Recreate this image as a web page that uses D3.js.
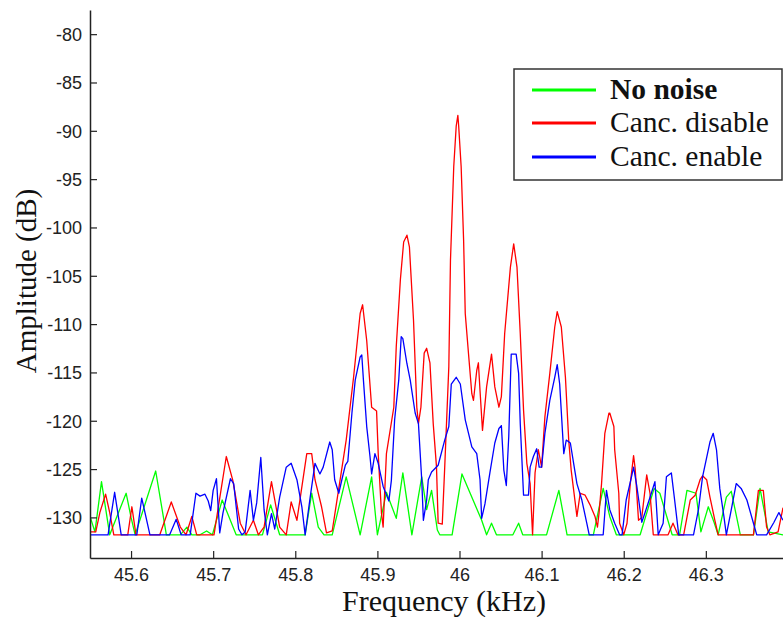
<!DOCTYPE html>
<html>
<head>
<meta charset="utf-8">
<script src="https://cdn.jsdelivr.net/npm/d3@7"></script>
<style>
  body { margin: 0; background: #fff; }
  svg { display: block; }
  .tick text { font-family: "Liberation Sans", Arial, sans-serif; font-size: 18px; fill: #222; }
  .title { font-family: "Liberation Serif", "Times New Roman", serif; fill: #111; }
</style>
</head>
<body>
<svg id="chart" width="783" height="617"></svg>
<script>
// values: [frequency kHz, amplitude dB]
const noNoise = [
  [45.550,-129.9],[45.556,-131.5],[45.564,-126.3],[45.574,-131.8],[45.594,-127.5],[45.600,-130.0],[45.605,-131.8],
  [45.630,-125.2],[45.643,-131.8],[45.660,-131.8],[45.668,-131.0],[45.674,-131.8],[45.684,-131.8],[45.692,-131.4],
  [45.699,-131.8],[45.711,-128.2],[45.728,-131.8],[45.760,-131.8],[45.770,-128.7],[45.781,-131.8],[45.812,-131.8],
  [45.820,-127.5],[45.828,-131.0],[45.835,-131.8],[45.845,-131.8],[45.862,-125.8],[45.879,-131.8],[45.893,-125.8],
  [45.900,-131.8],[45.911,-127.4],[45.923,-130.1],[45.931,-125.4],[45.942,-131.8],[45.954,-125.8],[45.960,-129.2],
  [45.966,-127.2],[45.973,-131.3],[45.976,-131.8],[45.991,-131.8],[46.003,-125.5],[46.027,-130.3],[46.033,-131.8],
  [46.039,-130.6],[46.045,-131.8],[46.065,-131.8],[46.072,-130.6],[46.077,-131.8],[46.106,-131.8],[46.121,-127.2],
  [46.131,-131.8],[46.163,-131.8],[46.175,-127.0],[46.183,-129.9],[46.191,-131.8],[46.220,-131.8],[46.237,-127.0],
  [46.244,-127.5],[46.259,-131.8],[46.268,-131.8],[46.277,-127.2],[46.288,-127.5],[46.294,-131.5],[46.303,-128.9],
  [46.310,-130.5],[46.315,-131.8],[46.325,-127.9],[46.331,-127.3],[46.342,-131.8],[46.358,-131.8],[46.366,-127.0],
  [46.376,-131.5],[46.394,-131.8]
];

const cancDisable = [
  [45.550,-131.5],[45.557,-131.5],[45.562,-129.5],[45.569,-127.6],[45.574,-129.5],[45.579,-131.8],[45.596,-131.8],
  [45.601,-128.9],[45.606,-131.8],[45.635,-131.8],[45.649,-128.4],[45.660,-131.0],[45.667,-131.8],[45.674,-129.9],
  [45.680,-131.8],[45.701,-131.8],[45.708,-128.0],[45.716,-123.7],[45.724,-126.2],[45.733,-130.6],[45.740,-131.8],
  [45.749,-130.3],[45.755,-131.8],[45.762,-131.0],[45.771,-126.3],[45.781,-131.0],[45.789,-131.8],[45.795,-128.4],
  [45.802,-130.3],[45.806,-128.0],[45.814,-123.4],[45.820,-123.4],[45.824,-126.1],[45.832,-128.9],[45.838,-131.6],
  [45.845,-131.4],[45.853,-127.0],[45.862,-122.0],[45.871,-115.5],[45.879,-108.9],[45.882,-108.0],[45.887,-111.7],
  [45.893,-118.6],[45.899,-119.0],[45.901,-123.4],[45.905,-129.6],[45.907,-131.0],[45.911,-123.4],[45.920,-118.6],
  [45.923,-112.3],[45.928,-105.4],[45.932,-101.5],[45.936,-100.8],[45.939,-102.0],[45.944,-109.6],[45.948,-118.6],
  [45.950,-120.3],[45.953,-118.6],[45.957,-113.0],[45.960,-112.5],[45.964,-114.0],[45.968,-120.3],[45.972,-124.8],
  [45.974,-130.6],[45.979,-130.7],[45.982,-124.8],[45.987,-114.4],[45.989,-103.4],[45.993,-93.7],[45.996,-89.5],
  [45.998,-88.4],[45.999,-89.5],[46.002,-93.7],[46.005,-101.3],[46.007,-108.9],[46.011,-113.1],[46.015,-117.2],
  [46.017,-117.9],[46.021,-114.8],[46.023,-114.0],[46.025,-116.9],[46.028,-121.0],[46.033,-116.5],[46.039,-113.1],
  [46.043,-116.5],[46.048,-118.6],[46.051,-117.5],[46.055,-111.0],[46.062,-104.1],[46.066,-101.7],[46.070,-104.1],
  [46.074,-111.0],[46.078,-118.9],[46.082,-124.4],[46.086,-126.5],[46.089,-131.8],[46.092,-125.4],[46.096,-123.0],
  [46.100,-124.8],[46.104,-119.6],[46.110,-115.1],[46.116,-110.3],[46.119,-108.7],[46.124,-110.3],[46.129,-115.5],
  [46.133,-122.0],[46.136,-125.1],[46.143,-129.9],[46.147,-127.5],[46.153,-127.7],[46.159,-128.7],[46.165,-129.9],
  [46.168,-131.0],[46.170,-129.5],[46.173,-126.5],[46.177,-121.3],[46.182,-119.2],[46.183,-119.2],[46.188,-120.6],
  [46.189,-123.0],[46.194,-127.5],[46.195,-130.6],[46.200,-131.8],[46.204,-130.6],[46.208,-126.5],[46.212,-123.6],
  [46.214,-125.0],[46.218,-130.3],[46.222,-130.0],[46.228,-125.6],[46.232,-127.5],[46.236,-131.8],[46.254,-131.8],
  [46.260,-130.6],[46.266,-131.8],[46.273,-131.8],[46.281,-128.2],[46.287,-127.7],[46.293,-126.1],[46.296,-125.7],
  [46.301,-126.1],[46.305,-127.9],[46.311,-130.3],[46.315,-131.8],[46.358,-131.8],[46.364,-127.2],[46.370,-127.2],
  [46.374,-131.0],[46.378,-131.8],[46.388,-131.5],[46.394,-129.0]
];

const cancEnable = [
  [45.550,-131.8],[45.572,-131.8],[45.580,-127.4],[45.588,-131.8],[45.607,-131.8],[45.613,-128.0],[45.623,-131.8],
  [45.647,-131.8],[45.655,-130.2],[45.661,-131.8],[45.672,-131.8],[45.679,-127.5],[45.684,-127.8],[45.690,-127.6],
  [45.694,-128.3],[45.697,-129.3],[45.700,-127.2],[45.704,-126.0],[45.708,-131.6],[45.712,-129.5],[45.721,-126.0],
  [45.725,-126.5],[45.731,-131.2],[45.735,-131.8],[45.739,-131.5],[45.745,-127.2],[45.749,-130.3],[45.753,-128.5],
  [45.758,-123.8],[45.762,-129.2],[45.766,-131.8],[45.771,-129.6],[45.775,-131.2],[45.781,-127.9],[45.789,-124.8],
  [45.795,-124.4],[45.802,-126.1],[45.808,-128.9],[45.812,-131.8],[45.818,-128.0],[45.824,-124.4],[45.830,-125.5],
  [45.834,-124.8],[45.842,-122.2],[45.845,-123.0],[45.848,-126.1],[45.853,-127.5],[45.857,-126.0],[45.861,-124.6],
  [45.864,-124.2],[45.869,-119.2],[45.873,-115.8],[45.879,-113.4],[45.881,-113.2],[45.883,-115.8],[45.887,-120.6],
  [45.891,-123.7],[45.893,-125.5],[45.897,-123.4],[45.901,-124.4],[45.907,-126.8],[45.914,-128.3],[45.917,-126.2],
  [45.921,-119.9],[45.926,-115.8],[45.929,-111.3],[45.931,-111.5],[45.936,-114.1],[45.940,-115.8],[45.946,-119.2],
  [45.950,-120.3],[45.954,-126.1],[45.956,-130.3],[45.960,-128.2],[45.962,-126.1],[45.966,-125.3],[45.974,-124.6],
  [45.982,-122.0],[45.987,-120.6],[45.990,-116.2],[45.996,-115.5],[46.001,-116.2],[46.007,-119.9],[46.011,-121.3],
  [46.015,-122.7],[46.021,-123.4],[46.025,-126.1],[46.027,-130.1],[46.031,-128.6],[46.037,-125.4],[46.043,-122.3],
  [46.048,-120.8],[46.051,-120.5],[46.054,-125.1],[46.057,-126.7],[46.060,-121.6],[46.063,-113.1],[46.069,-113.1],
  [46.072,-115.1],[46.074,-120.3],[46.078,-127.7],[46.084,-127.7],[46.086,-124.8],[46.090,-123.7],[46.094,-122.9],
  [46.097,-124.8],[46.100,-124.8],[46.104,-121.3],[46.110,-117.9],[46.116,-115.5],[46.119,-114.2],[46.122,-116.2],
  [46.127,-123.4],[46.130,-122.0],[46.135,-122.3],[46.139,-124.4],[46.143,-126.5],[46.149,-128.2],[46.155,-130.6],
  [46.158,-131.8],[46.175,-131.8],[46.179,-127.2],[46.183,-129.2],[46.189,-130.6],[46.195,-131.8],[46.198,-131.8],
  [46.203,-128.2],[46.210,-125.6],[46.212,-124.8],[46.216,-126.8],[46.222,-130.5],[46.226,-129.5],[46.234,-127.4],
  [46.238,-126.3],[46.242,-131.8],[46.248,-130.6],[46.252,-125.8],[46.258,-125.4],[46.262,-128.2],[46.267,-131.8],
  [46.285,-131.8],[46.291,-129.2],[46.296,-125.8],[46.305,-122.2],[46.309,-121.3],[46.313,-123.0],[46.317,-127.0],
  [46.322,-129.9],[46.325,-131.8],[46.331,-129.2],[46.337,-126.5],[46.343,-127.0],[46.350,-128.2],[46.358,-130.6],
  [46.362,-131.8],[46.374,-131.8],[46.383,-130.5],[46.389,-129.5],[46.394,-130.3]
];

const xTicks = [45.6, 45.7, 45.8, 45.9, 46, 46.1, 46.2, 46.3];
const yTicks = [-130, -125, -120, -115, -110, -105, -100, -95, -90, -85, -80];
const legendLabels = ['No noise', 'Canc. disable', 'Canc. enable'];
const seriesColors = ['#00ff00', '#ff0000', '#0000ff'];

const svg = d3.select('#chart');

// plot box (the picture is cropped on the right)
const plotLeft = 90, plotBottom = 558, plotTop = 10, plotRight = 829;

const x = d3.scaleLinear().domain([45.55, 46.45]).range([plotLeft, plotRight]);
const y = d3.scaleLinear().domain([-134.2, -77.5]).range([plotBottom, plotTop]);

svg.append('rect').attr('width', 783).attr('height', 617).attr('fill', '#fff');

svg.append('defs').append('clipPath').attr('id', 'plot-clip')
  .append('rect')
  .attr('x', plotLeft).attr('y', plotTop)
  .attr('width', plotRight - plotLeft).attr('height', plotBottom - plotTop);

// series lines
const line = d3.line()
  .x(d => x(d[0]))
  .y(d => y(d[1]));

const plot = svg.append('g').attr('clip-path', 'url(#plot-clip)');
[noNoise, cancDisable, cancEnable].forEach((s, i) => {
  plot.append('path')
    .datum(s)
    .attr('d', line)
    .attr('fill', 'none')
    .attr('stroke', seriesColors[i])
    .attr('stroke-width', 1.3)
    .attr('stroke-linejoin', 'round');
});

// axes, ticks pointing inward like matlab; plain hyphen for the minus sign
const xAxis = d3.axisBottom(x)
  .tickValues(xTicks)
  .tickFormat(d => String(d))
  .tickSizeInner(-7)
  .tickSizeOuter(0)
  .tickPadding(10);

const yAxis = d3.axisLeft(y)
  .tickValues(yTicks)
  .tickFormat(d => String(d))
  .tickSizeInner(-7)
  .tickSizeOuter(0)
  .tickPadding(8);

const gx = svg.append('g').attr('transform', `translate(0,${plotBottom})`).call(xAxis);
const gy = svg.append('g').attr('transform', `translate(${plotLeft},0)`).call(yAxis);

[gx, gy].forEach(g => {
  g.select('.domain').attr('stroke', '#222').attr('stroke-width', 1.5);
  g.selectAll('.tick line').attr('stroke', '#222').attr('stroke-width', 1.2);
});
gy.selectAll('.tick text').attr('dy', '0.36em');

// axis titles
svg.append('text')
  .attr('class', 'title')
  .attr('x', 444)
  .attr('y', 611)
  .attr('text-anchor', 'middle')
  .attr('font-size', 30)
  .text('Frequency (kHz)');

svg.append('text')
  .attr('class', 'title')
  .attr('transform', 'translate(36,281) rotate(-90)')
  .attr('text-anchor', 'middle')
  .attr('font-size', 29)
  .text('Amplitude (dB)');

// legend
const legend = svg.append('g');
legend.append('rect')
  .attr('x', 514).attr('y', 69)
  .attr('width', 268).attr('height', 111)
  .attr('fill', '#fff')
  .attr('stroke', '#333')
  .attr('stroke-width', 1.5);

const rowY = [90, 123, 157];
legendLabels.forEach((lab, i) => {
  legend.append('line')
    .attr('x1', 532).attr('x2', 596)
    .attr('y1', rowY[i]).attr('y2', rowY[i])
    .attr('stroke', seriesColors[i])
    .attr('stroke-width', 3);
  legend.append('text')
    .attr('class', 'title')
    .attr('x', 610)
    .attr('y', rowY[i] + 9)
    .attr('font-size', 29.5)
    .attr('font-weight', i === 0 ? 'bold' : 'normal')
    .text(lab);
});
</script>
</body>
</html>
